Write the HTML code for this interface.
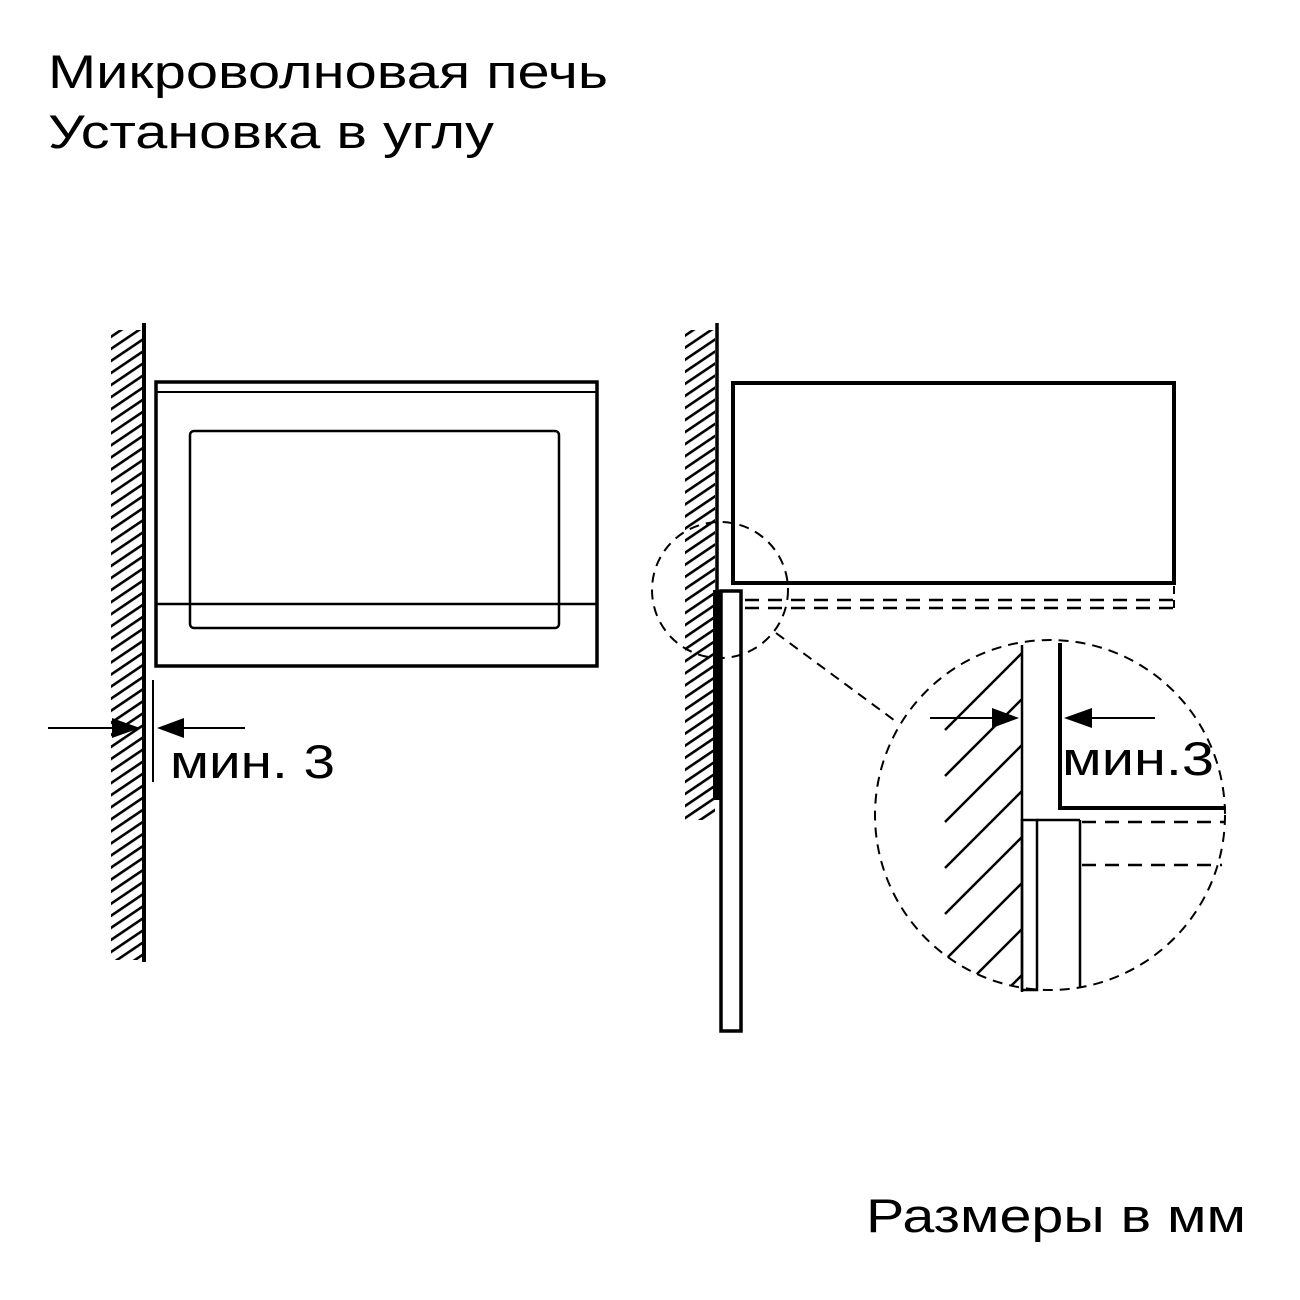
<!DOCTYPE html>
<html><head><meta charset="utf-8"><style>html,body{margin:0;padding:0;background:#fff}svg{display:block}</style></head>
<body>
<svg width="1300" height="1300" viewBox="0 0 1300 1300" xmlns="http://www.w3.org/2000/svg">
<defs>
<pattern id="h1" patternUnits="userSpaceOnUse" width="10" height="10" patternTransform="rotate(56)">
<rect x="0" y="0" width="2.6" height="10" fill="#000"/>
</pattern>
<clipPath id="cc"><circle cx="1050" cy="815" r="175"/></clipPath>
</defs>
<g font-family="Liberation Sans, sans-serif" fill="#000">
<text x="48" y="88" font-size="47" textLength="560" lengthAdjust="spacingAndGlyphs">Микроволновая печь</text>
<text x="48" y="148" font-size="47" textLength="446" lengthAdjust="spacingAndGlyphs">Установка в углу</text>
<text x="866" y="1232" font-size="47" textLength="380" lengthAdjust="spacingAndGlyphs">Размеры в мм</text>
<text x="170" y="778" font-size="47" textLength="165" lengthAdjust="spacingAndGlyphs">мин. 3</text>
<text x="1062" y="775" font-size="47" textLength="152" lengthAdjust="spacingAndGlyphs">мин.3</text>
</g>
<g stroke="#000" fill="none">
<rect x="111" y="330" width="31" height="630" fill="url(#h1)" stroke="none"/>
<line x1="144" y1="323" x2="144" y2="962" stroke-width="4"/>
<rect x="156" y="382" width="441" height="284" stroke-width="3.5"/>
<line x1="157" y1="392" x2="596" y2="392" stroke-width="2"/>
<rect x="190" y="431" width="369" height="197" rx="4" stroke-width="2.5"/>
<line x1="157" y1="604" x2="596" y2="604" stroke-width="2.5"/>
<line x1="153" y1="680" x2="153" y2="782" stroke-width="2"/>
<line x1="48" y1="728" x2="120" y2="728" stroke-width="2"/>
<line x1="245" y1="728" x2="170" y2="728" stroke-width="2"/>
</g>
<polygon points="140,728 112,718 112,738" fill="#000"/>
<polygon points="157,728 184,718 184,738" fill="#000"/>
<g stroke="#000" fill="none">
<rect x="685" y="330" width="30" height="490" fill="url(#h1)" stroke="none"/>
<line x1="717" y1="323" x2="717" y2="800" stroke-width="3.5"/>
<rect x="713" y="590" width="8" height="210" fill="#000" stroke="none"/>
<rect x="733" y="383" width="441" height="200" stroke-width="4"/>
<rect x="721" y="591" width="20" height="440" stroke-width="3.5" fill="#fff"/>
<line x1="745" y1="600" x2="1174" y2="600" stroke-width="2.5" stroke-dasharray="14,9"/>
<line x1="745" y1="608" x2="1174" y2="608" stroke-width="2.5" stroke-dasharray="14,9"/>
<line x1="1174" y1="586" x2="1174" y2="608" stroke-width="2" stroke-dasharray="8,6"/>
<circle cx="720" cy="590" r="68" stroke-width="2" stroke-dasharray="10,7"/>
<line x1="776" y1="633" x2="898" y2="723" stroke-width="2" stroke-dasharray="10,7"/>
<circle cx="1050" cy="815" r="175" stroke-width="2" stroke-dasharray="10,7"/>
<g clip-path="url(#cc)" stroke-width="2.5">
<line x1="945" y1="730" x2="1022" y2="653"/>
<line x1="945" y1="776" x2="1022" y2="699"/>
<line x1="945" y1="822" x2="1022" y2="745"/>
<line x1="945" y1="868" x2="1022" y2="791"/>
<line x1="945" y1="914" x2="1022" y2="837"/>
<line x1="945" y1="960" x2="1022" y2="883"/>
<line x1="945" y1="1006" x2="1022" y2="929"/>
<line x1="945" y1="1052" x2="1022" y2="975"/>
</g>
<line x1="1022" y1="645" x2="1022" y2="992" stroke-width="2.5"/>
<rect x="1022" y="820" width="15" height="170" stroke-width="2.5"/>
<polyline points="1060,643 1060,808 1226,808" stroke-width="4"/>
<line x1="1037" y1="820" x2="1080" y2="820" stroke-width="2.5"/>
<line x1="1080" y1="820" x2="1080" y2="988" stroke-width="2.5"/>
<line x1="1082" y1="822" x2="1224" y2="822" stroke-width="2.5" stroke-dasharray="14,9"/>
<line x1="1082" y1="865" x2="1222" y2="865" stroke-width="2.5" stroke-dasharray="14,9"/>
<line x1="930" y1="718" x2="995" y2="718" stroke-width="2"/>
<line x1="1090" y1="718" x2="1155" y2="718" stroke-width="2"/>
</g>
<polygon points="1019,718 992,708 992,728" fill="#000"/>
<polygon points="1064,718 1092,708 1092,728" fill="#000"/>
</svg>
</body></html>
